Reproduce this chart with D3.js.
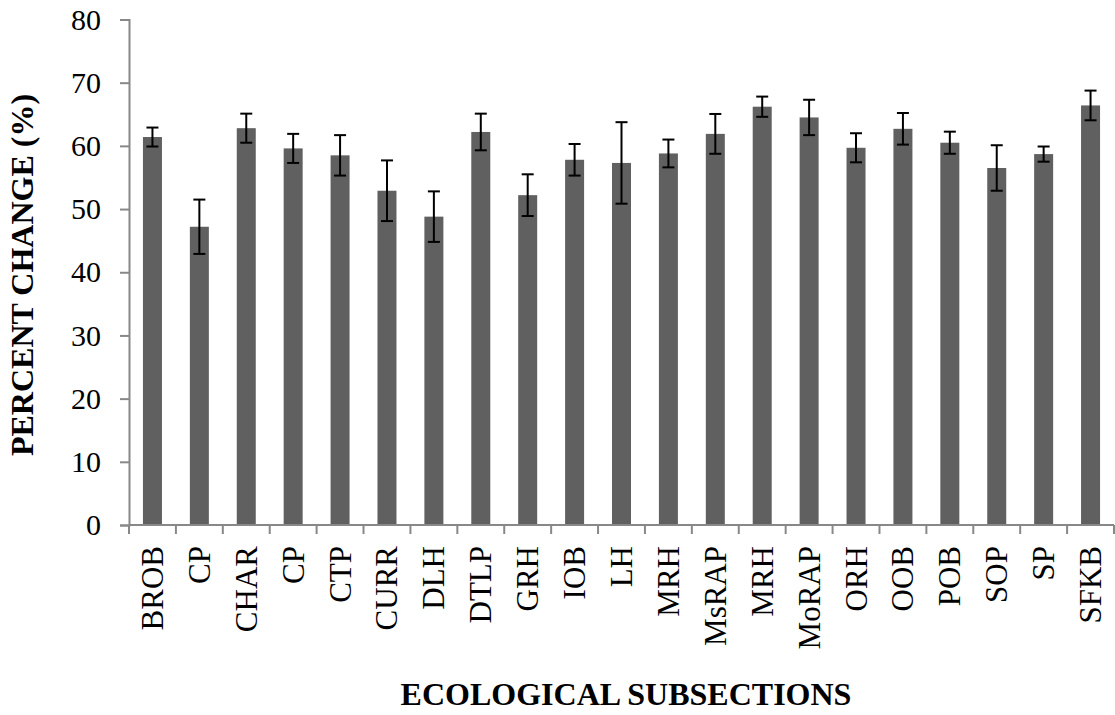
<!DOCTYPE html>
<html>
<head>
<meta charset="utf-8">
<script src="https://cdn.jsdelivr.net/npm/d3@7"></script>
<style>
  html, body { margin: 0; padding: 0; background: #fff; }
  svg { display: block; }
</style>
</head>
<body>
<svg id="chart" width="1115" height="715"></svg>
<script>
const categories = ["BROB","CP","CHAR","CP","CTP","CURR","DLH","DTLP","GRH","IOB","LH","MRH","MsRAP","MRH","MoRAP","ORH","OOB","POB","SOP","SP","SFKB"];
const values = [61.4, 47.2, 62.8, 59.6, 58.5, 52.9, 48.8, 62.2, 52.2, 57.8, 57.3, 58.8, 61.9, 66.2, 64.5, 59.7, 62.7, 60.5, 56.5, 58.7, 66.4];
const errors = [1.5, 4.3, 2.3, 2.3, 3.2, 4.8, 4.0, 2.9, 3.3, 2.5, 6.45, 2.2, 3.15, 1.6, 2.8, 2.3, 2.5, 1.75, 3.6, 1.2, 2.35];
const yTicks = [0, 10, 20, 30, 40, 50, 60, 70, 80];

const svg = d3.select("#chart");
const plotLeft = 129, plotRight = 1114, plotTop = 19.5, plotBottom = 525;
const idx = categories.map((d, i) => i);

const x = d3.scaleBand().domain(idx).range([plotLeft, plotRight]).paddingInner(0.595).paddingOuter(0.2975);
const y = d3.scaleLinear().domain([0, 80]).range([plotBottom, plotTop]);
const axisColor = "#888888";
const font = "'Liberation Serif', 'Times New Roman', serif";

// bars
svg.append("g").selectAll("rect").data(idx).join("rect")
  .attr("x", i => x(i))
  .attr("y", i => y(values[i]))
  .attr("width", x.bandwidth())
  .attr("height", i => y(0) - y(values[i]))
  .attr("fill", "#606060");

// error bars
const eg = svg.append("g").attr("stroke", "#000").attr("stroke-width", 2);
idx.forEach(i => {
  const cx = x(i) + x.bandwidth() / 2;
  const y1 = y(values[i] + errors[i]), y2 = y(values[i] - errors[i]);
  eg.append("line").attr("x1", cx).attr("x2", cx).attr("y1", y1).attr("y2", y2);
  eg.append("line").attr("x1", cx - 6).attr("x2", cx + 6).attr("y1", y1).attr("y2", y1);
  eg.append("line").attr("x1", cx - 6).attr("x2", cx + 6).attr("y1", y2).attr("y2", y2);
});

// y axis
const yAxis = svg.append("g").attr("transform", `translate(${plotLeft},0)`)
  .call(d3.axisLeft(y).tickValues(yTicks).tickSize(9).tickPadding(19).tickFormat(d3.format("d")));
yAxis.select(".domain").attr("stroke", axisColor).attr("stroke-width", 2);
yAxis.selectAll(".tick line").attr("stroke", axisColor).attr("stroke-width", 2);
yAxis.selectAll(".tick text").attr("font-family", font).attr("font-size", 30).attr("fill", "#000");

// x axis with boundary ticks
const xg = svg.append("g");
xg.append("line").attr("x1", plotLeft).attr("x2", plotRight).attr("y1", plotBottom).attr("y2", plotBottom)
  .attr("stroke", axisColor).attr("stroke-width", 2);
const boundaries = d3.range(categories.length + 1);
const xb = d3.scaleLinear().domain([0, categories.length]).range([plotLeft, plotRight]);
xg.selectAll("line.bt").data(boundaries).join("line").attr("class", "bt")
  .attr("x1", d => xb(d)).attr("x2", d => xb(d)).attr("y1", plotBottom).attr("y2", plotBottom + 9)
  .attr("stroke", axisColor).attr("stroke-width", 2);

xg.selectAll("text.cat").data(idx).join("text").attr("class", "cat")
  .attr("transform", i => `translate(${x(i) + x.bandwidth() / 2 + 10.5},${plotBottom + 21}) rotate(-90)`)
  .attr("text-anchor", "end")
  .attr("font-family", font).attr("font-size", 31).attr("fill", "#000")
  .text(i => categories[i]);

// axis titles
svg.append("text")
  .attr("transform", `translate(33,275) rotate(-90)`)
  .attr("text-anchor", "middle")
  .attr("font-family", font).attr("font-size", 32).attr("font-weight", "bold")
  .text("PERCENT CHANGE (%)");

svg.append("text")
  .attr("x", 626).attr("y", 705)
  .attr("text-anchor", "middle")
  .attr("font-family", font).attr("font-size", 32).attr("font-weight", "bold")
  .text("ECOLOGICAL SUBSECTIONS");
</script>
</body>
</html>
